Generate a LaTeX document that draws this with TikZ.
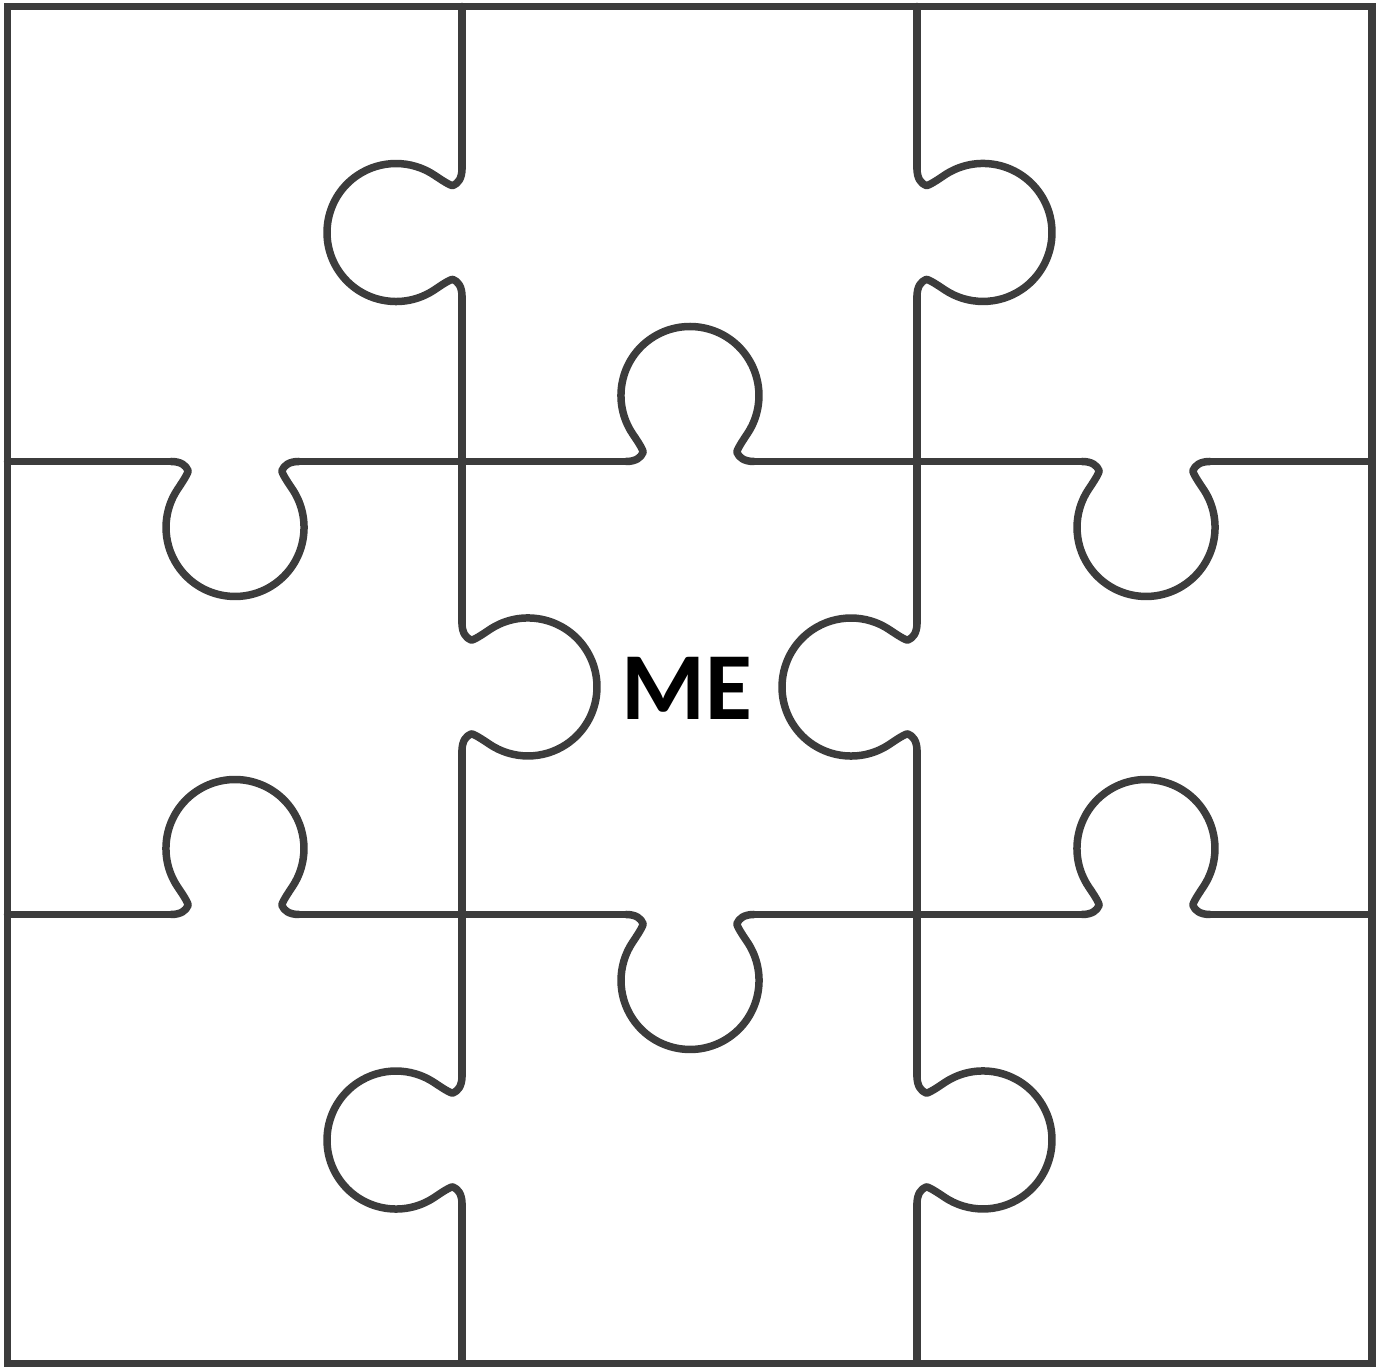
\documentclass[tikz,border=0pt]{standalone}
\usepackage{fontspec}
\newfontfamily\mefont{Carlito}
\definecolor{puzgray}{HTML}{3C3C3C}
\newcommand{\jigtab}[3]{%
  \draw[puz, shift={(#1,#2)}, rotate=#3]
    (-64,0) .. controls (-54,0) and (-49,4) .. (-47,9)
    .. controls (-46.2,11) and (-52.8,20.9) .. (-57.3,27.5)
    arc[start angle=213.9, end angle=-33.9, radius=69]
    .. controls (52.8,20.9) and (46.2,11) .. (47,9)
    .. controls (49,4) and (54,0) .. (64,0);}
\begin{document}
\begin{tikzpicture}[x=1pt,y=1pt,
  puz/.style={draw=puzgray, line width=7.5pt, line cap=round, line join=round}]
\useasboundingbox (0,0) rectangle (1384,1367);
\fill[white] (0,0) rectangle (1384,1367);
% outer border
\draw[puz, line join=miter, line cap=butt] (7.5,3.5) rectangle (1372,1360.5);
% vertical divider 1 (x=462)
\draw[puz] (462,1360.5) -- (462,1198.5);
\jigtab{462}{1134.5}{90}
\draw[puz] (462,1070.5) -- (462,744);
\jigtab{462}{680}{-90}
\draw[puz] (462,616) -- (462,291);
\jigtab{462}{227}{90}
\draw[puz] (462,163) -- (462,3.5);
% vertical divider 2 (x=917)
\draw[puz] (917,1360.5) -- (917,1198.5);
\jigtab{917}{1134.5}{-90}
\draw[puz] (917,1070.5) -- (917,744);
\jigtab{917}{680}{90}
\draw[puz] (917,616) -- (917,291);
\jigtab{917}{227}{-90}
\draw[puz] (917,163) -- (917,3.5);
% horizontal divider 1 (y=905.5)
\draw[puz] (7.5,905.5) -- (171,905.5);
\jigtab{235}{905.5}{180}
\draw[puz] (299,905.5) -- (626,905.5);
\jigtab{690}{905.5}{0}
\draw[puz] (754,905.5) -- (1082,905.5);
\jigtab{1146}{905.5}{180}
\draw[puz] (1210,905.5) -- (1372,905.5);
% horizontal divider 2 (y=452.5)
\draw[puz] (7.5,452.5) -- (171,452.5);
\jigtab{235}{452.5}{0}
\draw[puz] (299,452.5) -- (626,452.5);
\jigtab{690}{452.5}{180}
\draw[puz] (754,452.5) -- (1082,452.5);
\jigtab{1146}{452.5}{0}
\draw[puz] (1210,452.5) -- (1372,452.5);
% label
\node[anchor=base, inner sep=0pt, font=\mefont\bfseries\fontsize{96}{96}\selectfont] (me) at (686.7,647) {ME};
\end{tikzpicture}
\end{document}
